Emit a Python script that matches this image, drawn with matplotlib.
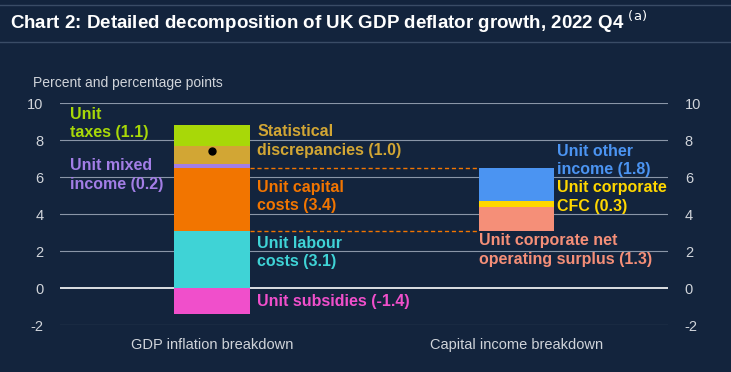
import numpy as np
import matplotlib.pyplot as plt

plt.rcParams['font.family'] = ['Liberation Sans', 'DejaVu Sans']
plt.rcParams['axes.unicode_minus'] = False

bg = '#13243d'

# GDP deflator breakdown (stack, bottom to top above zero)
gdp_names = ['Unit labour costs', 'Unit capital costs', 'Unit mixed income',
             'Statistical discrepancies', 'Unit taxes']
gdp_vals = [3.1, 3.4, 0.2, 1.0, 1.1]
gdp_cols = ['#3fd3d6', '#f27500', '#a37ee6', '#d2a634', '#a8d808']
subsidies = -1.4
sub_col = '#f04fcb'

# capital costs breakdown
cap_names = ['Unit corporate net operating surplus', 'Unit corporate CFC', 'Unit other income']
cap_vals = [1.3, 0.3, 1.8]
cap_cols = ['#f58f78', '#ffd700', '#4b94f2']

categories = ['GDP inflation breakdown', 'Capital income breakdown']

fig = plt.figure(figsize=(7.31, 3.72), dpi=100, facecolor=bg)
ax = fig.add_axes([0.082, 0.126, 0.832, 0.597], facecolor=bg)

ax.set_xlim(-0.5, 1.5)
ax.set_ylim(-2, 10)
w = 0.247

for yv in np.arange(-2, 11, 2):
    ax.axhline(yv, color='#ffffff' if yv == 0 else '#8a96a8', lw=1.2 if yv == 0 else 0.8, zorder=1)

bottom = 0
for v, c in zip(gdp_vals, gdp_cols):
    ax.bar(0, v, w, bottom=bottom, color=c, zorder=3)
    bottom += v
ax.bar(0, subsidies, w, color=sub_col, zorder=3)
total = sum(gdp_vals) + subsidies
ax.plot(0, total, 'o', color='black', ms=5, zorder=4)

cap_start = gdp_vals[0]
bottom = cap_start
for v, c in zip(cap_vals, cap_cols):
    ax.bar(1, v, w, bottom=bottom, color=c, zorder=3)
    bottom += v

# dashed connectors
for yv in [gdp_vals[0], gdp_vals[0] + gdp_vals[1]]:
    ax.plot([w / 2, 1 - w / 2], [yv, yv], ls=(0, (3, 2)), color='#f27500', lw=1, zorder=2)

fs = 11.5
kw = dict(fontsize=fs, fontweight='bold', va='center', linespacing=1.3)
xl = -0.467
ax.text(xl, 8.9, 'Unit\ntaxes (1.1)', color=gdp_cols[4], ha='left', **kw)
ax.text(xl, 6.1, 'Unit mixed\nincome (0.2)', color=gdp_cols[2], ha='left', **kw)
xr = w / 2 + 0.025
ax.text(xr, 7.95, 'Statistical\ndiscrepancies (1.0)', color=gdp_cols[3], ha='left', **kw)
ax.text(xr, 4.95, 'Unit capital\ncosts (3.4)', color=gdp_cols[1], ha='left', **kw)
ax.text(xr, 1.92, 'Unit labour\ncosts (3.1)', color=gdp_cols[0], ha='left', **kw)
ax.text(xr, -0.7, 'Unit subsidies (-1.4)', color=sub_col, ha='left', **kw)
ax.text(1 + w / 2 + 0.01, 6.9, 'Unit other\nincome (1.8)', color=cap_cols[2], ha='left', **kw)
ax.text(1 + w / 2 + 0.01, 4.92, 'Unit corporate\nCFC (0.3)', color=cap_cols[1], ha='left', **kw)
ax.text(1 - w / 2, 2.05, 'Unit corporate net\noperating surplus (1.3)', color=cap_cols[0], ha='left', **kw)

ax.set_xticks([0, 1])
ax.set_xticklabels(categories)
ax.set_yticks(np.arange(-2, 11, 2))
ax.tick_params(axis='both', length=0, colors='#d0d4da', labelsize=10.5)
ax.tick_params(axis='x', pad=9)
ax.tick_params(axis='y', pad=12, labelright=True)
for s in ax.spines.values():
    s.set_visible(False)

fig.text(0.045, 0.765, 'Percent and percentage points', color='#d0d4da', fontsize=10)

fig.text(0.014, 0.94, r'Chart 2: Detailed decomposition of UK GDP deflator growth, 2022 Q4 $^{\mathrm{(a)}}$',
         color='white', fontsize=13.5, fontweight='bold', va='center')
fig.add_artist(plt.Line2D([0, 1], [0.987, 0.987], color='#3a4c66', lw=1))
fig.add_artist(plt.Line2D([0, 1], [0.888, 0.888], color='#3a4c66', lw=1))

fig.savefig('out.png', dpi=100, facecolor=bg)
